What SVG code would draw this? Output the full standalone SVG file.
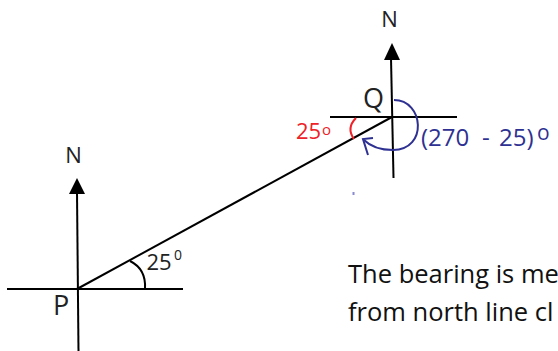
<svg xmlns="http://www.w3.org/2000/svg" width="558" height="351" viewBox="0 0 558 351">
<style>
.ln{stroke:#000;stroke-width:2;fill:none;stroke-linecap:butt}
.t{font-family:"Open Sans","Liberation Sans",sans-serif;fill:#222}
</style>
<rect width="558" height="351" fill="#fff"/>
<g id="compass-p">
<line class="ln" x1="77" y1="192" x2="78.5" y2="351"/>
<polygon points="77,178 69,194 85,194" fill="#000"/>
<line class="ln" x1="7" y1="289" x2="183" y2="289"/>
<text class="t" x="73.5" y="163" font-size="22" text-anchor="middle">N</text>
<text class="t" x="53" y="315" font-size="27">P</text>
</g>
<g id="compass-q">
<line class="ln" x1="391" y1="58" x2="393.5" y2="178"/>
<polygon points="392,43 384,60 400,60" fill="#000"/>
<line class="ln" x1="330" y1="117" x2="457" y2="117"/>
<text class="t" x="389.5" y="27" font-size="22" text-anchor="middle">N</text>
<text class="t" x="363" y="108" font-size="27">Q</text>
</g>
<g id="connectors">
<line class="ln" x1="77" y1="289" x2="392" y2="117"/>
</g>
<g id="angle-p">
<path class="ln" d="M130 261 C140 266 146 275 145 289"/>
<text class="t" x="146.5" y="270" font-size="22">25<tspan font-size="14" x="174" y="260">0</tspan></text>
</g>
<g id="angle-q-red">
<path d="M356 118 Q346 128 354 139" fill="none" stroke="#ee2228" stroke-width="2"/>
<text class="t" x="296" y="139" font-size="22" style="fill:#ee2228">25<tspan font-size="15" x="322" y="135">o</tspan></text>
</g>
<g id="angle-q-blue">
<path d="M394 100 C424 100 428 150 393 150 C380 150 370 146 364 140" fill="none" stroke="#2e3192" stroke-width="2"/>
<path d="M373 138 L363 139 L368 155" fill="none" stroke="#2e3192" stroke-width="2"/>
<text class="t" font-size="24" y="146" style="fill:#2e3192"><tspan x="421">(270</tspan><tspan x="482">-</tspan><tspan x="499">25)</tspan><tspan font-size="21" x="537" y="140">o</tspan></text>
<rect x="352.5" y="192" width="2" height="3" fill="#8a8ad0"/>
</g>
<g id="note">
<text class="t" x="348" y="283" font-size="25.5" style="fill:#111">The bearing is me</text>
<text class="t" x="348" y="321" font-size="25.5" style="fill:#111">from north line cl</text>
</g>
</svg>
